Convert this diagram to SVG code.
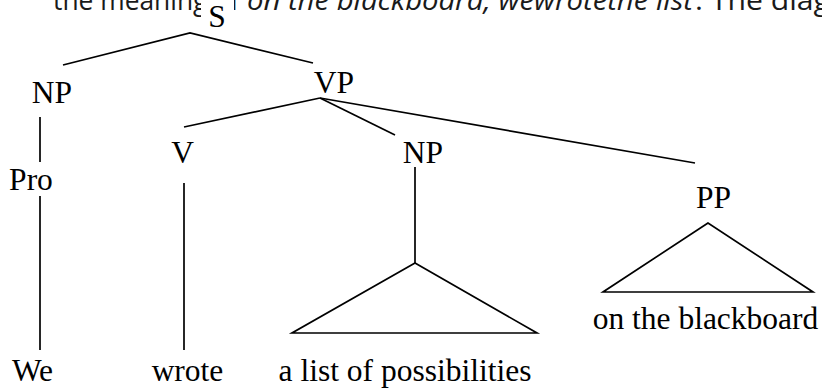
<svg xmlns="http://www.w3.org/2000/svg" width="822" height="389" viewBox="0 0 822 389">
  <style>
    .lbl { font-family: "Liberation Serif", "Times New Roman", serif; font-size: 31.5px; fill: #000; text-anchor: middle; }
    .body { font-family: "Open Sans", "Liberation Sans", sans-serif; font-size: 27px; fill: #1a1a1a; }
    .it { font-style: italic; }
    .edge { stroke: #000; stroke-width: 1.7; fill: none; stroke-linecap: butt; stroke-linejoin: miter; }
  </style>
  <rect width="822" height="389" fill="#fff"/>

  <!-- running prose line above the tree, clipped at the top -->
  <g id="prose">
    <text class="body" x="53" y="10" textLength="186" lengthAdjust="spacingAndGlyphs">the meaning of</text>
    <text class="body it" x="247" y="10" textLength="446" lengthAdjust="spacingAndGlyphs">on the blackboard, wewrotethe list</text>
    <text class="body" x="695" y="10" textLength="135" lengthAdjust="spacingAndGlyphs">. The diag</text>
    <rect x="201" y="0" width="33" height="30" fill="#fff"/>
  </g>

  <!-- tree branches -->
  <g id="connectors">
    <polyline class="edge" points="63,65 190,33 313,63"/>
    <line class="edge" x1="40" y1="117" x2="40" y2="162"/>
    <line class="edge" x1="40" y1="196" x2="40" y2="350"/>
    <line class="edge" x1="320" y1="98" x2="184" y2="127"/>
    <line class="edge" x1="320" y1="98" x2="395" y2="135"/>
    <line class="edge" x1="320" y1="98" x2="695" y2="163"/>
    <line class="edge" x1="184" y1="183" x2="184" y2="350"/>
    <line class="edge" x1="415" y1="167" x2="415" y2="263"/>
    <polygon class="edge" points="415,263 292,333 537,333"/>
    <polygon class="edge" points="708,223 603,292 813,292"/>
  </g>

  <g id="node-S"><text class="lbl" x="217" y="27">S</text></g>
  <g id="node-NP-subj"><text class="lbl" x="52" y="103">NP</text></g>
  <g id="node-VP"><text class="lbl" x="334" y="93">VP</text></g>
  <g id="node-Pro"><text class="lbl" x="31" y="190">Pro</text></g>
  <g id="node-V"><text class="lbl" x="182.5" y="163">V</text></g>
  <g id="node-NP-obj"><text class="lbl" x="423" y="163">NP</text></g>
  <g id="node-PP"><text class="lbl" x="713.5" y="208">PP</text></g>
  <g id="leaf-We"><text class="lbl" x="32.5" y="381">We</text></g>
  <g id="leaf-wrote"><text class="lbl" x="187.5" y="381">wrote</text></g>
  <g id="leaf-list"><text class="lbl" x="405" y="381">a list of possibilities</text></g>
  <g id="leaf-blackboard"><text class="lbl" x="705.5" y="329">on the blackboard</text></g>
</svg>
